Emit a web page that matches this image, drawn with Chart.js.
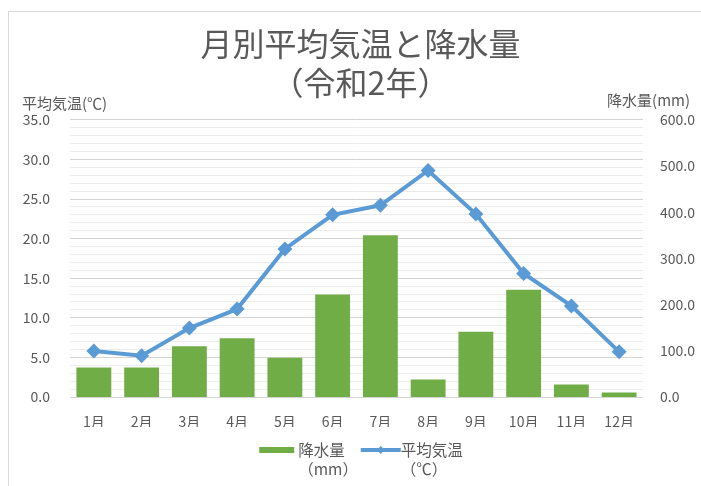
<!DOCTYPE html>
<html>
<head>
<meta charset="utf-8">
<script src="https://cdn.jsdelivr.net/npm/chart.js@4/dist/chart.umd.min.js"></script>
<style>
    html, body { margin: 0; padding: 0; background: #fff; }
    #wrap { position: relative; width: 701px; height: 486px; overflow: hidden; }
    #frame { position: absolute; left: 8px; top: 11px; width: 800px; height: 600px;
             border-left: 1px solid #d9d9d9; border-top: 1px solid #d9d9d9; }
    canvas { position: absolute; left: 0; top: 0; }
</style>
</head>
<body>
<div id="wrap">
    <div id="frame"></div>
    <canvas id="chart" width="701" height="486"></canvas>
</div>
<script>
const months = ['1月', '2月', '3月', '4月', '5月', '6月', '7月', '8月', '9月', '10月', '11月', '12月'];
const precipitation = [64, 64, 110, 127, 85, 222, 350, 38, 141, 232, 27, 10];   // mm
const temperature = [5.8, 5.2, 8.7, 11.1, 18.7, 23.0, 24.2, 28.6, 23.1, 15.6, 11.5, 5.7]; // ℃
const tempRange = [0, 35];
const tempMajorStep = 5;
const rainRange = [0, 600];
const rainStep = 100;

const FONT = "'Noto Sans CJK JP', 'Noto Sans', sans-serif";
const GREY = '#595959';
const GREEN = '#70AD47';
const BLUE = '#5B9BD5';

// axis titles sit horizontally above each y axis
const axisTitles = {
    id: 'axisTitles',
    afterDraw(chart) {
        const ctx = chart.ctx;
        ctx.save();
        ctx.font = '15px ' + FONT;
        ctx.fillStyle = GREY;
        ctx.textBaseline = 'middle';
        ctx.textAlign = 'left';
        ctx.fillText('平均気温(℃)', 22, 103);
        ctx.textAlign = 'right';
        ctx.fillText('降水量(mm)', 690, 100);
        ctx.restore();
    }
};

// legend with two-line labels under the axis
const bottomLegend = {
    id: 'bottomLegend',
    afterDraw(chart) {
        const ctx = chart.ctx;
        const ds = chart.data.datasets;
        ctx.save();
        ctx.font = '15.5px ' + FONT;
        ctx.textBaseline = 'middle';
        const items = ds.map(d => ({ d, lines: d.legendLines, w: ctx.measureText(d.legendLines[0]).width }));
        const swatchW = [35, 40];
        const total = swatchW[0] + 4 + items[0].w + 16 + swatchW[1] + items[1].w;
        let x = 361 - total / 2;
        const y = 450;
        items.forEach((it, i) => {
            if (it.d.type === 'line') {
                ctx.strokeStyle = it.d.borderColor;
                ctx.lineWidth = 4;
                ctx.beginPath();
                ctx.moveTo(x, y);
                ctx.lineTo(x + swatchW[i], y);
                ctx.stroke();
                ctx.fillStyle = it.d.borderColor;
                const cx = x + swatchW[i] / 2;
                ctx.beginPath();
                ctx.moveTo(cx, y - 4); ctx.lineTo(cx + 4, y); ctx.lineTo(cx, y + 4); ctx.lineTo(cx - 4, y);
                ctx.closePath();
                ctx.fill();
                x += swatchW[i];
            } else {
                ctx.fillStyle = it.d.backgroundColor;
                ctx.fillRect(x, y - 3, swatchW[i], 6);
                x += swatchW[i] + 4;
            }
            ctx.fillStyle = GREY;
            ctx.textAlign = 'left';
            ctx.fillText(it.lines[0], x, y);
            ctx.fillText(it.lines[1], x, y + 19);
            x += it.w + 16;
        });
        ctx.restore();
    }
};

Chart.defaults.font.family = FONT;
Chart.defaults.color = GREY;

new Chart(document.getElementById('chart'), {
    data: {
        labels: months,
        datasets: [
            {
                type: 'bar',
                label: '降水量(mm)',
                legendLines: ['降水量', '（mm）'],
                data: precipitation,
                yAxisID: 'yRain',
                backgroundColor: GREEN,
                barPercentage: 0.73,
                categoryPercentage: 1,
                order: 2
            },
            {
                type: 'line',
                label: '平均気温(℃)',
                legendLines: ['平均気温', '（℃）'],
                data: temperature,
                yAxisID: 'yTemp',
                borderColor: BLUE,
                backgroundColor: BLUE,
                borderWidth: 4,
                pointStyle: 'rectRot',
                pointRadius: 7.5,
                pointBorderWidth: 0,
                tension: 0,
                order: 1
            }
        ]
    },
    options: {
        responsive: false,
        animation: false,
        layout: { padding: { left: 20, right: 0, top: 0, bottom: 59 } },
        plugins: {
            legend: { display: false },
            tooltip: { enabled: false },
            title: {
                display: true,
                text: ['月別平均気温と降水量', '（令和2年）'],
                color: GREY,
                font: { size: 32, weight: 'normal', lineHeight: 1.2 },
                padding: { top: 25, bottom: 18 }
            }
        },
        scales: {
            x: {
                grid: { display: false },
                border: { display: false },
                ticks: { font: { size: 14 }, padding: 8, color: GREY },
                afterFit(scale) { scale.height = 30; }
            },
            yTemp: {
                position: 'left',
                min: tempRange[0],
                max: tempRange[1],
                border: { display: false },
                grid: {
                    drawTicks: false,
                    color: c => (c.tick && c.tick.value % tempMajorStep === 0) ? '#d4d4d4' : '#ececec'
                },
                ticks: {
                    stepSize: 1,
                    autoSkip: false,
                    padding: 20,
                    font: { size: 14 },
                    color: GREY,
                    callback: v => v % tempMajorStep === 0 ? v.toFixed(1) : ''
                },
                afterFit(scale) { scale.width = 50; }
            },
            yRain: {
                position: 'right',
                min: rainRange[0],
                max: rainRange[1],
                border: { display: false },
                grid: { display: false, drawTicks: false },
                ticks: {
                    stepSize: rainStep,
                    padding: 17,
                    font: { size: 14 },
                    color: GREY,
                    callback: v => v.toFixed(1)
                },
                afterFit(scale) { scale.width = 58; }
            }
        }
    },
    plugins: [axisTitles, bottomLegend]
});
</script>
</body>
</html>
